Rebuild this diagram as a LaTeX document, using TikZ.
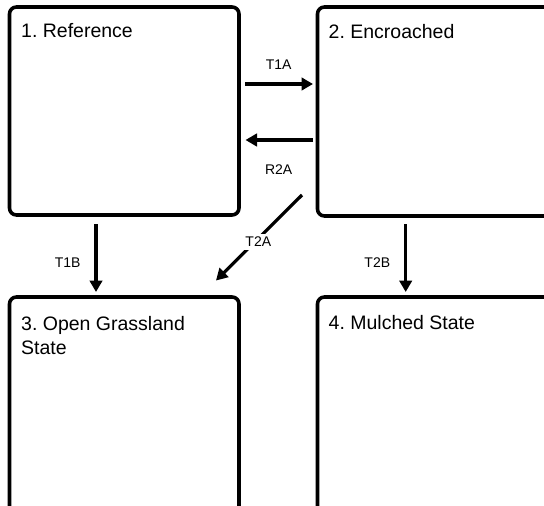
\documentclass[tikz,border=0pt]{standalone}
\usepackage{fontspec}
\setmainfont{Liberation Sans}
\usetikzlibrary{arrows.meta}
\frenchspacing
\begin{document}
\begin{tikzpicture}[x=1pt,y=-1pt,
  statebox/.style={draw=black, line width=3.6pt, rounded corners=7pt, outer sep=0pt, inner sep=0pt, anchor=north west},
  statetext/.style={anchor=base west, inner sep=0pt, align=left, font=\fontsize{19.5}{24}\selectfont\frenchspacing},
  arr/.style={line width=3.2pt, -{Triangle[length=11.5pt,width=12.5pt]}},
  lbl/.style={anchor=base, inner sep=0pt, font=\fontsize{14}{16}\selectfont}
]
\useasboundingbox (0,0) rectangle (544,506);
\clip (0,0) rectangle (544,506);

% state boxes
\node[statebox, minimum width=229.5pt, minimum height=208pt] (s1) at (9.5,7) {};
\node[statebox, minimum width=250pt, minimum height=209pt] (s2) at (317.5,7) {};
\node[statebox, minimum width=229.5pt, minimum height=240pt] (s3) at (9.5,297) {};
\node[statebox, minimum width=250pt, minimum height=240pt] (s4) at (317.5,297) {};

% titles
\node[statetext] (t1) at (21,37) {1. Reference};
\node[statetext] (t2) at (328.5,38) {2. Encroached};
\node[statetext] (t3) at (21,354) {3. Open Grassland\\State};
\node[statetext] (t4) at (328.5,329) {4. Mulched State};

% connector end points
\coordinate (a1s) at (245,84);   \coordinate (a1e) at (313,84);
\coordinate (a2s) at (313,140);  \coordinate (a2e) at (245.5,140);
\coordinate (a3s) at (302,195);  \coordinate (a3e) at (216,280.5);
\coordinate (a4s) at (96,224);   \coordinate (a4e) at (96,292);
\coordinate (a5s) at (405.7,224);\coordinate (a5e) at (405.7,292);

\draw[arr] (a1s) -- (a1e);
\draw[arr] (a2s) -- (a2e);
\draw[arr] (a3s) -- (a3e);
\draw[arr] (a4s) -- (a4e);
\draw[arr] (a5s) -- (a5e);

% labels
\node[lbl] (l1) at (278.7,69.3) {T1A};
\node[lbl] (l2) at (278.7,174) {R2A};
\node[lbl, fill=white, inner sep=3pt] (l3) at (258.3,246.7) {T2A};
\node[lbl] (l4) at (67.7,267) {T1B};
\node[lbl] (l5) at (377.3,267.3) {T2B};
\end{tikzpicture}
\end{document}
